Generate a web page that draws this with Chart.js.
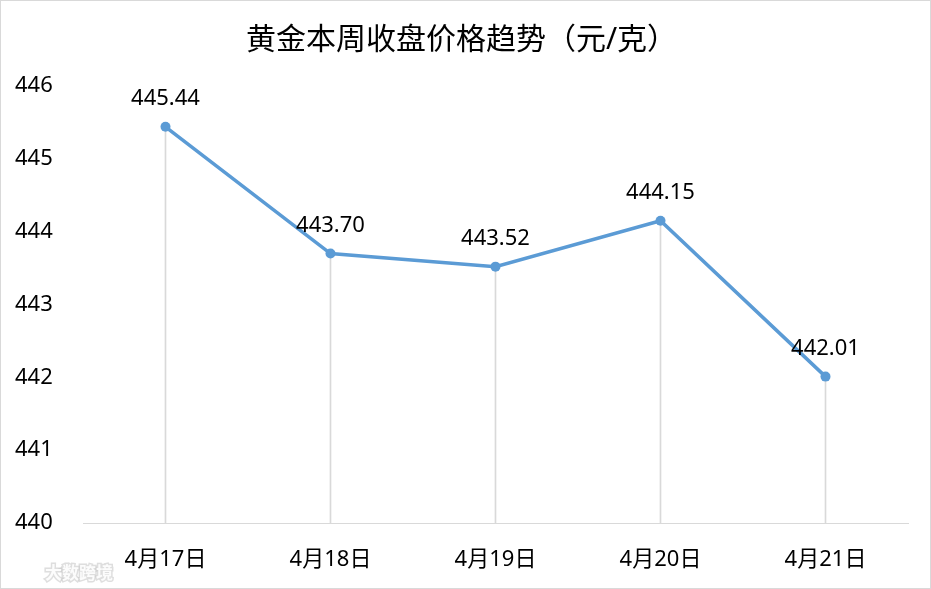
<!DOCTYPE html>
<html>
<head>
<meta charset="utf-8">
<script src="https://cdn.jsdelivr.net/npm/chart.js@4"></script>
<style>
    html, body { margin: 0; padding: 0; background: #fff; }
    #box { width: 931px; height: 589px; }
</style>
</head>
<body>
<div id="box"><canvas id="goldChart"></canvas></div>
<script>
const days = ['4月17日', '4月18日', '4月19日', '4月20日', '4月21日'];
const closePrices = [445.44, 443.70, 443.52, 444.15, 442.01];
const priceLabels = ['445.44', '443.70', '443.52', '444.15', '442.01'];
const axisMin = 440;
const axisMax = 446;

const FONT = '"Noto Sans", "Noto Sans CJK SC", sans-serif';

// подписи значений над точками
const valueLabels = {
    id: 'valueLabels',
    afterDatasetsDraw(chart) {
        const meta = chart.getDatasetMeta(0);
        const ctx = chart.ctx;
        ctx.save();
        ctx.font = '22px ' + FONT;
        ctx.fillStyle = '#000';
        ctx.textAlign = 'center';
        ctx.textBaseline = 'middle';
        meta.data.forEach((pt, i) => {
            ctx.fillText(priceLabels[i], pt.x, pt.y - 28);
        });
        ctx.restore();
    }
};

// рамка и водяной знак
const frame = {
    id: 'frame',
    afterDraw(chart) {
        const ctx = chart.ctx;
        ctx.save();
        ctx.strokeStyle = '#d9d9d9';
        ctx.lineWidth = 1;
        ctx.strokeRect(0.5, 0.5, chart.width - 1, chart.height - 1);
        ctx.font = 'bold 17px "Noto Sans CJK SC", sans-serif';
        ctx.textBaseline = 'middle';
        ctx.lineWidth = 3;
        ctx.strokeStyle = 'rgba(200,200,200,0.6)';
        ctx.fillStyle = 'rgba(255,255,255,0.9)';
        ctx.strokeText('大数跨境', 45, 573);
        ctx.fillText('大数跨境', 45, 573);
        ctx.restore();
    }
};

const ctx = document.getElementById('goldChart');
new Chart(ctx, {
    data: {
        labels: days,
        datasets: [{
            type: 'line',
            data: closePrices,
            borderColor: '#5b9bd5',
            backgroundColor: '#5b9bd5',
            borderWidth: 3.5,
            pointRadius: 5,
            pointBackgroundColor: '#5b9bd5',
            pointBorderWidth: 0,
            tension: 0,
            order: 0
        }, {
            type: 'bar',
            data: closePrices.map(v => [axisMin, v]),
            backgroundColor: '#d9d9d9',
            barThickness: 1,
            order: 1
        }]
    },
    plugins: [valueLabels, frame],
    options: {
        responsive: true,
        maintainAspectRatio: false,
        animation: false,
        layout: { padding: { left: 15, right: 23, top: 0, bottom: 16 } },
        plugins: {
            legend: { display: false },
            tooltip: { enabled: false },
            title: {
                display: true,
                text: '黄金本周收盘价格趋势（元/克）',
                color: '#000',
                font: { family: FONT, size: 30, weight: 'normal', lineHeight: 1.2 },
                padding: { top: 22, bottom: 28 }
            }
        },
        scales: {
            x: {
                offset: true,
                grid: { display: false },
                border: { display: true, color: '#d9d9d9', width: 1 },
                afterFit(scale) { scale.height = 50; },
                ticks: { color: '#000', padding: 16, maxRotation: 0, font: { family: FONT, size: 22 } }
            },
            y: {
                min: axisMin,
                max: axisMax,
                grid: { display: false },
                border: { display: false },
                afterFit(scale) { scale.width = 68; },
                ticks: {
                    stepSize: 1,
                    color: '#000',
                    crossAlign: 'far',
                    font: { family: FONT, size: 22 }
                }
            }
        }
    }
});
</script>
</body>
</html>
